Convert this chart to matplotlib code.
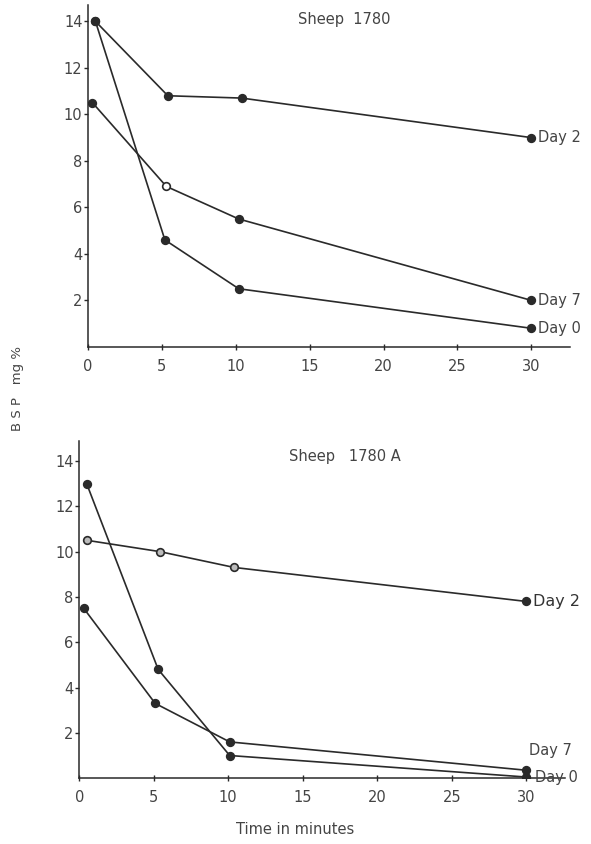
import matplotlib
matplotlib.use("Agg")
import matplotlib.pyplot as plt

# Sheep 1780 (top panel)
top_x = {
    "Day 2": [0.5, 5.4, 10.4, 30],
    "Day 0": [0.5, 5.2, 10.2, 30],
    "Day 7": [0.3, 5.3, 10.2, 30],
}
top_y = {
    "Day 2": [14.0, 10.8, 10.7, 9.0],
    "Day 0": [14.0, 4.6, 2.5, 0.8],
    "Day 7": [10.5, 6.9, 5.5, 2.0],
}

# Sheep 1780 A (bottom panel)
bot_x = {
    "Day 2": [0.5, 5.4, 10.4, 30],
    "Day 0": [0.5, 5.3, 10.1, 30],
    "Day 7": [0.3, 5.1, 10.1, 30],
}
bot_y = {
    "Day 2": [10.5, 10.0, 9.3, 7.8],
    "Day 0": [13.0, 4.8, 1.0, 0.05],
    "Day 7": [7.5, 3.3, 1.6, 0.35],
}

xticks = [0, 5, 10, 15, 20, 25, 30]
yticks = [2, 4, 6, 8, 10, 12, 14]

ink = "#2a2a2a"
txt = "#444444"

fig = plt.figure(figsize=(5.91, 8.44), dpi=100)
ax1 = fig.add_axes([0.149, 0.589, 0.815, 0.405])
ax2 = fig.add_axes([0.134, 0.078, 0.822, 0.40])


def style(ax, ytop):
    ax.set_xlim(0, 32.6)
    ax.set_ylim(0, ytop)
    for s in ["top", "right"]:
        ax.spines[s].set_visible(False)
    for s in ["left", "bottom"]:
        ax.spines[s].set_color(ink)
        ax.spines[s].set_linewidth(1.1)
    ax.set_xticks(xticks)
    ax.set_yticks(yticks)
    ax.tick_params(axis="x", direction="inout", length=5, width=1, colors=ink,
                   labelcolor=txt, labelsize=10.5, pad=6)
    ax.tick_params(axis="y", direction="out", length=3, width=1, colors=ink,
                   labelcolor=txt, labelsize=10.5, pad=1)


def series(ax, xs, ys, open_idx=(), face_open="white"):
    ax.plot(xs, ys, color=ink, lw=1.2, zorder=2)
    for i, (x, y) in enumerate(zip(xs, ys)):
        fc = face_open if i in open_idx else ink
        ax.plot(x, y, "o", ms=5.5, mfc=fc, mec=ink, mew=1.2, zorder=3)


style(ax1, 14.7)
series(ax1, top_x["Day 2"], top_y["Day 2"])
series(ax1, top_x["Day 0"], top_y["Day 0"])
series(ax1, top_x["Day 7"], top_y["Day 7"], open_idx=(1,))
ax1.text(14.2, 14.1, "Sheep  1780", fontsize=10.5, color=txt, va="center")
ax1.annotate("Day 2", (30, top_y["Day 2"][-1]), xytext=(5, 0),
             textcoords="offset points", va="center", fontsize=10.5, color=txt)
ax1.annotate("Day 7", (30, top_y["Day 7"][-1]), xytext=(5, 0),
             textcoords="offset points", va="center", fontsize=10.5, color=txt)
ax1.annotate("Day 0", (30, top_y["Day 0"][-1]), xytext=(5, 0),
             textcoords="offset points", va="center", fontsize=10.5, color=txt)

style(ax2, 14.9)
series(ax2, bot_x["Day 2"], bot_y["Day 2"], open_idx=(0, 1, 2), face_open="#bbbbbb")
series(ax2, bot_x["Day 0"], bot_y["Day 0"])
series(ax2, bot_x["Day 7"], bot_y["Day 7"])
ax2.text(14.1, 14.2, "Sheep   1780 A", fontsize=10.5, color=txt, va="center")
ax2.annotate("Day 2", (30, bot_y["Day 2"][-1]), xytext=(5, 0),
             textcoords="offset points", va="center", fontsize=11.5,
             color="#333333")
ax2.annotate("Day 7", (30, bot_y["Day 7"][-1]), xytext=(2, 9),
             textcoords="offset points", va="bottom", fontsize=10.5, color=txt)
ax2.annotate("Day 0", (30, bot_y["Day 0"][-1]), xytext=(6, 0),
             textcoords="offset points", va="center", fontsize=10.5, color=txt)

fig.text(0.5, 0.017, "Time in minutes", ha="center", va="center",
         fontsize=10.5, color=txt)
fig.text(0.03, 0.54, "B S P   mg %", rotation=90, ha="center", va="center",
         fontsize=9.5, color=txt)

fig.savefig("out.png", dpi=100, facecolor="white")
